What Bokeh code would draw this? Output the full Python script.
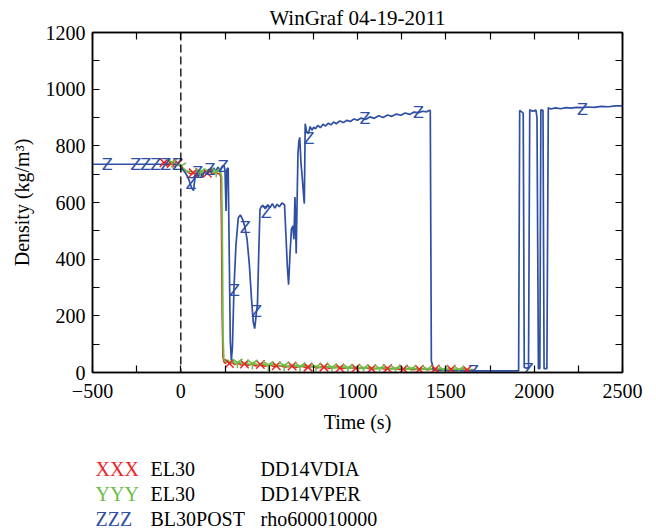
from bokeh.plotting import figure
from bokeh.layouts import column
from bokeh.models import Range1d, FixedTicker, LinearAxis, Span, ColumnDataSource
from bokeh.core.properties import value
from bokeh.embed import file_html
from bokeh.resources import INLINE

# ---------------- data ----------------
blue_t = [-500, -20, 0, 12, 25, 40, 52, 62, 72, 80, 90, 100, 110, 122, 135, 148, 160, 172, 185, 198,
          210, 222, 235, 245, 250, 256, 261, 268, 274, 280, 286, 292, 301, 312, 325, 337, 350, 362,
          375, 388, 400, 410, 418, 426, 434, 441, 448, 455, 464, 478, 492, 505, 518, 532, 545, 558,
          572, 587, 596, 603, 610, 618, 626, 634, 640, 646, 653, 658, 663, 668, 673, 680, 687, 693,
          699, 704, 712, 722, 732, 742, 752, 762, 775, 790, 805, 820, 835, 850, 865, 880, 900, 920,
          940, 960, 980, 1000, 1020, 1045, 1070, 1095, 1120, 1145, 1170, 1195, 1220, 1245, 1270,
          1295, 1320, 1345, 1370, 1392, 1405, 1412, 1418, 1424, 1430, 1500, 1650, 1800, 1912, 1918,
          1930, 1938, 1944, 1958, 1968, 1975, 1990, 2010, 2016, 2024, 2032, 2038, 2050, 2056, 2072,
          2080, 2095, 2120, 2150, 2180, 2210, 2240, 2273, 2300, 2340, 2380, 2420, 2460, 2500]
blue_v = [735, 735, 728, 715, 705, 690, 668, 650, 642, 688, 700, 692, 705, 690, 712, 702, 718, 706, 722, 710,
          725, 712, 728, 730, 712, 570, 718, 722, 420, 110, 42, 90, 300, 450, 545, 556, 540, 515,
          470, 380, 260, 178, 155, 200, 245, 420, 575, 585, 590, 578, 592, 582, 596, 580, 594, 585,
          598, 592, 470, 372, 310, 420, 505, 518, 470, 619, 420, 600, 772, 815, 830, 740, 690, 640,
          596, 878, 850, 843, 868, 855, 866, 860, 872, 864, 876, 870, 880, 874, 884, 878, 888, 882,
          890, 886, 895, 890, 898, 893, 902, 897, 906, 900, 909, 904, 912, 908, 916,
          911, 919, 917, 922, 920, 925, 924, 40, 28, 8, 7, 6, 6, 6, 925,
          920, 915, 18, 15, 18, 927, 922, 926, 900, 14, 14, 927, 925, 14, 14,
          934, 930, 934, 931, 935, 933, 936, 935, 937, 936, 939, 938, 941, 941]

red_t = [-105, -90, -75, -60, -45, -30, -15, 0, 15, 30, 45, 60, 75, 90, 105, 120, 135, 150, 165, 180,
         195, 210, 220, 226, 230, 234, 238, 244, 252, 262, 275, 290, 305, 320, 340, 360, 380, 400, 425,
         450, 475, 500, 530, 560, 590, 620, 650, 680, 710, 740, 770, 800, 840, 880, 920, 960, 1000,
         1040, 1080, 1120, 1160, 1200, 1240, 1280, 1320, 1360, 1400, 1440, 1480, 1520, 1560, 1600,
         1640, 1660]
red_v = [738, 742, 735, 740, 733, 741, 736, 728, 718, 712, 705, 700, 708, 698, 706, 700, 708, 702, 710, 700,
         706, 702, 700, 690, 520, 200, 55, 38, 32, 40, 30, 36, 28, 34, 26, 32, 25, 30, 23,
         28, 22, 27, 20, 25, 19, 24, 18, 23, 17, 22, 16, 20, 15, 19, 14, 18, 13,
         17, 12, 16, 12, 15, 11, 14, 10, 14, 10, 13, 9, 12, 9, 12,
         8, 10]

green_t = [-80, -65, -50, -35, -20, -5, 10, 25, 40, 55, 70, 85, 100, 115, 130, 145, 160, 175, 190, 205,
           218, 226, 231, 235, 239, 243, 248, 256, 266, 280, 295, 310, 330, 350, 370, 390, 415, 440,
           465, 490, 520, 550, 580, 610, 640, 670, 700, 730, 760, 790, 830, 870, 910, 950, 990, 1030,
           1070, 1110, 1150, 1190, 1230, 1270, 1310, 1350, 1390, 1430, 1470, 1510, 1550, 1590, 1630,
           1655]
green_v = [740, 736, 744, 734, 739, 730, 722, 714, 708, 712, 702, 714, 704, 712, 702, 716, 706, 714, 704, 712,
           708, 704, 690, 450, 120, 50, 42, 36, 44, 34, 40, 30, 38, 28, 35, 27, 33, 25,
           31, 24, 29, 22, 27, 20, 26, 19, 24, 18, 23, 17, 21, 16, 20, 15, 19, 14,
           18, 13, 17, 12, 16, 12, 15, 11, 14, 10, 13, 10, 12, 9, 11,
           10]

x_mark_t = [-95, -55, -15, 70, 150, 275, 360, 450, 540, 630, 720, 810, 900, 990, 1080, 1170, 1260,
            1350, 1440, 1530, 1620]
x_mark_v = [740, 738, 738, 705, 703, 32, 30, 28, 24, 23, 19, 19, 16, 15, 13, 14, 12, 11, 12, 11, 9]
y_mark_t = [-50, 0, 110, 200, 320, 405, 495, 585, 675, 765, 855, 945, 1035, 1125, 1215, 1305, 1395,
            1485, 1575]
y_mark_v = [742, 728, 708, 710, 36, 32, 27, 25, 22, 20, 19, 17, 16, 15, 14, 13, 12, 11, 10]
z_mark_t = [-417, -256, -199, -142, -85, -19, 57, 95, 165, 240, 303, 365, 428, 483, 725, 1042, 1345,
            1657, 1966, 2273]
z_mark_v = [735, 735, 735, 735, 735, 735, 668, 705, 718, 728, 290, 513, 215, 565, 825, 895, 918,
            3, 12, 930]

x_ticks = [-500, 0, 500, 1000, 1500, 2000, 2500]
x_minor = [-250, 250, 750, 1250, 1750, 2250]
y_ticks = [0, 200, 400, 600, 800, 1000, 1200]
y_minor = [100, 300, 500, 700, 900, 1100]

title_text = "WinGraf 04-19-2011"
legend_marks = ["XXX", "YYY", "ZZZ"]
legend_col1 = ["EL30", "EL30", "BL30POST"]
legend_col2 = ["DD14VDIA", "DD14VPER", "rho600010000"]

# ---------------- style ----------------
BLUE = "#2e4fa3"
RED = "#ec2227"
GREEN = "#6cbd45"
SERIF = "Liberation Serif"
FRAME_L, FRAME_R = 92, 622

MAIN_H = 450
p = figure(width=656, height=MAIN_H, output_backend="svg", toolbar_location=None,
           x_range=Range1d(-500, 2500), y_range=Range1d(0, 1200),
           min_border_left=FRAME_L, min_border_right=656 - FRAME_R, min_border_top=32,
           min_border_bottom=78,
           x_axis_label="Time (s)", y_axis_label="Density (kg/m³)", title=title_text)
p.grid.visible = False
p.outline_line_color = "black"
p.outline_line_width = 1.5
p.background_fill_color = "white"
p.border_fill_color = "white"
p.title.align = "center"
p.title.text_font = SERIF
p.title.text_font_size = "21px"
p.title.text_font_style = "normal"
p.title.text_color = "black"
p.title.standoff = 6
p.title.offset = 6

p.xaxis.ticker = FixedTicker(ticks=x_ticks, minor_ticks=x_minor)
p.yaxis.ticker = FixedTicker(ticks=y_ticks, minor_ticks=y_minor)
p.xaxis.major_label_overrides = {-500: "\u2212500"}

for ax in (p.xaxis[0], p.yaxis[0]):
    ax.major_tick_in = 7
    ax.major_tick_out = 0
    ax.minor_tick_in = 7
    ax.minor_tick_out = 0
    ax.axis_line_color = "black"
    ax.axis_line_width = 1.5
    ax.major_tick_line_color = "black"
    ax.minor_tick_line_color = "black"
    ax.major_tick_line_width = 1.2
    ax.minor_tick_line_width = 1.2
    ax.major_label_text_font = SERIF
    ax.major_label_text_font_size = "20px"
    ax.major_label_text_color = "black"
    ax.axis_label_text_font = SERIF
    ax.axis_label_text_font_size = "20px"
    ax.axis_label_text_font_style = "normal"
    ax.axis_label_text_color = "black"
p.xaxis.major_label_standoff = 11
p.xaxis.axis_label_standoff = 10
p.yaxis.major_label_standoff = 7
p.yaxis.axis_label_standoff = 10

top_ax = LinearAxis(ticker=FixedTicker(ticks=x_ticks, minor_ticks=x_minor),
                    major_label_overrides={t: "" for t in x_ticks})
right_ax = LinearAxis(ticker=FixedTicker(ticks=y_ticks, minor_ticks=y_minor),
                      major_label_overrides={t: "" for t in y_ticks})
for ax in (top_ax, right_ax):
    ax.major_tick_in = 7
    ax.major_tick_out = 0
    ax.minor_tick_in = 7
    ax.minor_tick_out = 0
    ax.axis_line_color = "black"
    ax.axis_line_width = 1.5
    ax.major_tick_line_width = 1.2
    ax.minor_tick_line_width = 1.2
    ax.major_label_text_font_size = "0px"
    ax.major_label_standoff = 0
p.add_layout(top_ax, "above")
p.add_layout(right_ax, "right")

p.add_layout(Span(location=0, dimension="height", line_color="black",
                  line_dash="8 4", line_width=1.3))

p.line(red_t, red_v, line_color=RED, line_width=1.6)
p.line(green_t, green_v, line_color=GREEN, line_width=1.8)
p.line(blue_t, blue_v, line_color=BLUE, line_width=1.7)

p.scatter(x_mark_t, x_mark_v, marker="x", size=12, line_color=RED, line_width=1.5)
p.scatter(y_mark_t, y_mark_v, marker="y", size=12, line_color=GREEN, line_width=1.5)
zsrc = ColumnDataSource(dict(t=z_mark_t, v=z_mark_v))
p.text(x="t", y="v", text=value("Z"), source=zsrc, text_color=BLUE,
       text_font=value("DejaVu Sans"), text_font_size="16px",
       text_align="center", text_baseline="middle")

# ---------------- legend block (separate strip below the chart) ----------------
# The column layout aligns this strip's frame with the chart's frame (x 92..622),
# so the range is set to page pixels over that span.
LEG_H = 531 - MAIN_H
leg = figure(width=656, height=LEG_H, output_backend="svg", toolbar_location=None,
             x_range=Range1d(FRAME_L, FRAME_R), y_range=Range1d(LEG_H, 0),
             min_border=0, outline_line_color=None)
leg.axis.visible = False
leg.grid.visible = False
leg.border_fill_color = "white"
leg.background_fill_color = "white"

row_y = [468 - MAIN_H, 493 - MAIN_H, 518 - MAIN_H]
col_x = [95, 150, 260]
mark_colors = [RED, GREEN, BLUE]
leg.text(x=[col_x[0]] * 3, y=row_y, text=legend_marks, text_color=mark_colors,
         text_font=value(SERIF), text_font_size="20px", text_baseline="middle")
leg.text(x=[col_x[1]] * 3, y=row_y, text=legend_col1, text_color="black",
         text_font=value(SERIF), text_font_size="20px", text_baseline="middle")
leg.text(x=[col_x[2]] * 3, y=row_y, text=legend_col2, text_color="black",
         text_font=value(SERIF), text_font_size="20px", text_baseline="middle")

layout = column(p, leg, spacing=0)
open("out.html", "w").write(file_html(layout, INLINE))
